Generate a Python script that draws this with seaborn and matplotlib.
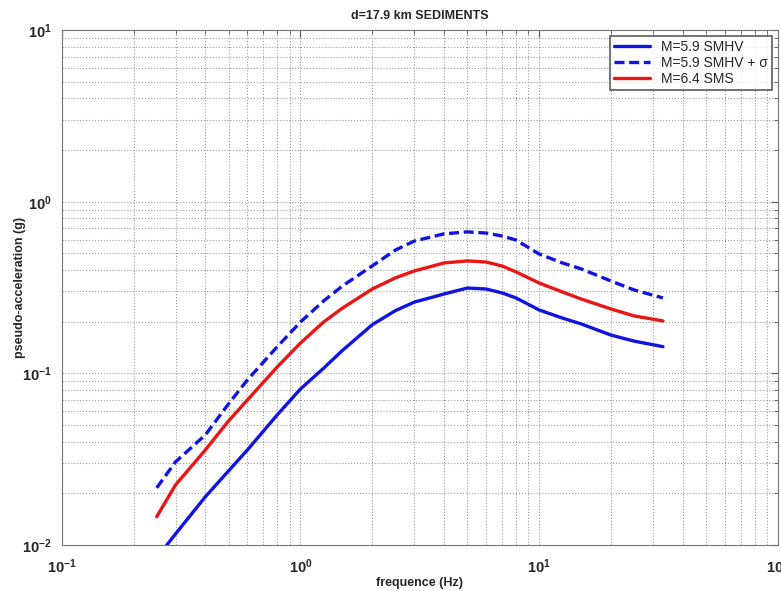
import numpy as np
import pandas as pd
import matplotlib
matplotlib.use('Agg')
import matplotlib.pyplot as plt
import matplotlib.ticker as mticker
import seaborn as sns

# values (log-log)
freq = [0.25, 0.3, 0.4, 0.5, 0.6, 0.8, 1.0, 1.25, 1.5, 2.0, 2.5, 3.0, 4.0,
        5.0, 6.0, 7.0, 8.0, 10.0, 12.5, 15.0, 20.0, 25.0, 33.0]
smhv = [0.0084, 0.0116, 0.0191, 0.027, 0.0358, 0.0573, 0.081, 0.107, 0.136,
        0.192, 0.232, 0.260, 0.290, 0.314, 0.310, 0.294, 0.275, 0.234, 0.210,
        0.194, 0.167, 0.154, 0.143]
smhv_sigma = [0.0215, 0.0305, 0.0438, 0.0664, 0.0916, 0.143, 0.199, 0.264,
              0.323, 0.423, 0.523, 0.590, 0.650, 0.667, 0.657, 0.631, 0.598,
              0.496, 0.440, 0.406, 0.345, 0.306, 0.275]
sms = [0.0146, 0.0224, 0.0358, 0.0528, 0.070, 0.109, 0.150, 0.199, 0.240,
       0.310, 0.360, 0.395, 0.440, 0.452, 0.445, 0.422, 0.390, 0.336, 0.298,
       0.271, 0.237, 0.216, 0.202]

labels = ['M=5.9 SMHV', 'M=5.9 SMHV + σ', 'M=6.4 SMS']

df = pd.DataFrame({'f': freq, 'a1': smhv, 'a2': smhv_sigma, 'a3': sms})

sns.set_style('white')
plt.rcParams['font.family'] = ['Liberation Sans', 'DejaVu Sans']

fig = plt.figure(figsize=(7.81, 5.91), dpi=100)
ax = fig.add_axes([0.079, 0.078, 0.917, 0.871])

sns.lineplot(data=df, x='f', y='a1', ax=ax, color='#1014e0', lw=2.4, label=labels[0])
sns.lineplot(data=df, x='f', y='a2', ax=ax, color='#1014e0', lw=2.4, label=labels[1])
ax.lines[-1].set_dashes([3, 1.4])
sns.lineplot(data=df, x='f', y='a3', ax=ax, color='#ec1515', lw=2.4, label=labels[2])

ax.set_xscale('log')
ax.set_yscale('log')
ax.set_xlim(0.1, 100)
ax.set_ylim(0.01, 10)
ax.xaxis.set_minor_locator(mticker.LogLocator(base=10, subs=np.arange(2, 10)))
ax.yaxis.set_minor_locator(mticker.LogLocator(base=10, subs=np.arange(2, 10)))
ax.xaxis.set_minor_formatter(mticker.NullFormatter())
ax.yaxis.set_minor_formatter(mticker.NullFormatter())

ax.grid(True, which='both', linestyle=':', color='#9a9a9a', lw=0.8)
ax.tick_params(which='both', direction='in', top=True, right=True,
               color='#555555')
ax.tick_params(which='major', length=5, labelsize=10.5)
ax.tick_params(axis='x', which='major', pad=9)
ax.tick_params(axis='y', which='major', pad=7)
ax.tick_params(which='minor', length=3)
for t in ax.get_xticklabels() + ax.get_yticklabels():
    t.set_fontweight('bold')
for s in ax.spines.values():
    s.set_color('#777777')

ax.set_title('d=17.9 km SEDIMENTS', fontsize=9, fontweight='bold', pad=8)
ax.set_xlabel('frequence (Hz)', fontsize=9, fontweight='bold', labelpad=1)
ax.set_ylabel('pseudo-acceleration (g)', fontsize=9, fontweight='bold')
ax.yaxis.set_label_coords(-0.05, 0.5)

leg = ax.legend(loc='upper right', fontsize=10, frameon=True, fancybox=False,
                edgecolor='#333333', borderaxespad=0.4, handlelength=2.6,
                labelspacing=0.15, borderpad=0.3)
leg.get_frame().set_linewidth(1.2)

fig.savefig('out.png', dpi=100)
